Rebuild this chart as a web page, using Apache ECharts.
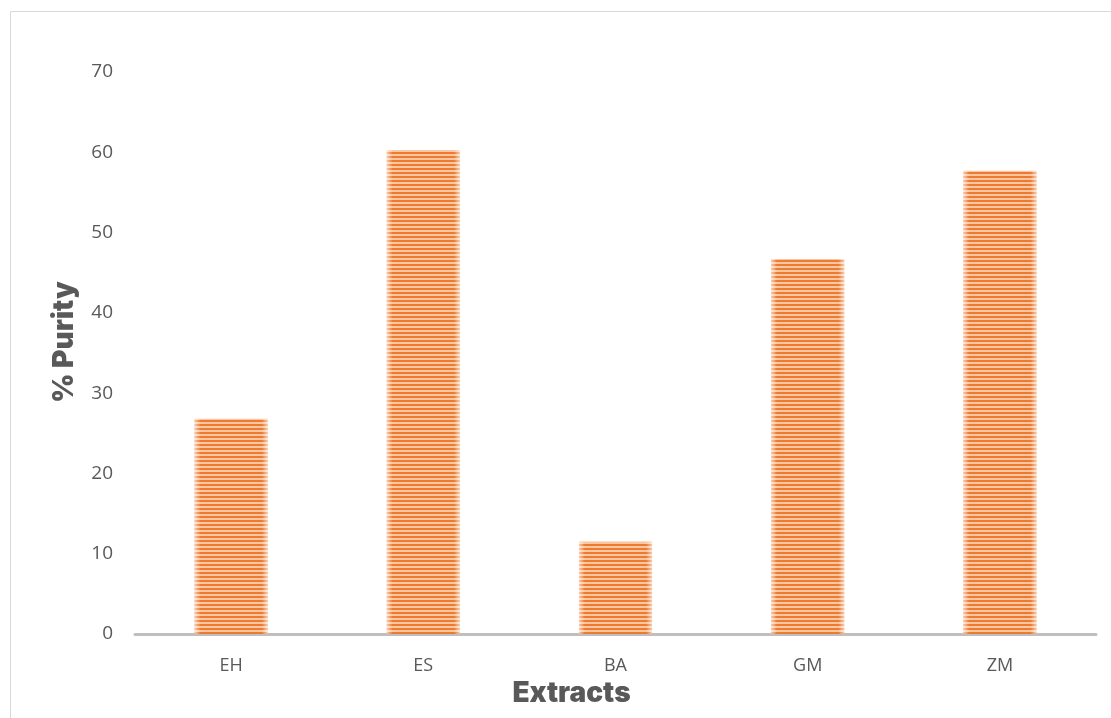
<!DOCTYPE html>
<html>
<head>
<meta charset="utf-8">
<style>
  html, body { margin: 0; padding: 0; background: #ffffff; }
  #chart { width: 1111px; height: 718px; }
</style>
<script src="https://cdn.jsdelivr.net/npm/echarts@6/dist/echarts.min.js"></script>
</head>
<body>
<div id="chart"></div>
<script>
// Extract purity values (%)
var categories = ['EH', 'ES', 'BA', 'GM', 'ZM'];
var purity = [26.8, 60.3, 11.5, 46.7, 57.7];
var yTicks = [0, 10, 20, 30, 40, 50, 60, 70];

// Horizontal stripe fill for the bars
function stripePattern() {
  var c = document.createElement('canvas');
  c.width = 8;
  c.height = 4;
  var ctx = c.getContext('2d');
  ctx.fillStyle = '#fac7a2';
  ctx.fillRect(0, 0, 8, 4);
  ctx.fillStyle = '#ee7a2f';
  ctx.fillRect(0, 0, 8, 2);
  return c;
}

var chart = echarts.init(document.getElementById('chart'), null, { renderer: 'canvas' });

chart.setOption({
  animation: false,
  backgroundColor: '#ffffff',
  graphic: [{
    type: 'rect',
    shape: { x: 10.5, y: 11.5, width: 1200, height: 800 },
    style: { fill: 'none', stroke: '#d9d9d9', lineWidth: 1 },
    silent: true
  }],
  grid: { left: 135, right: 15, top: 72, bottom: 84, containLabel: false },
  xAxis: {
    type: 'category',
    data: categories,
    name: 'Extracts',
    nameLocation: 'middle',
    nameGap: 39,
    nameTextStyle: {
      fontFamily: 'Inter', fontWeight: 900, fontSize: 28, color: '#595959',
      padding: [0, 88, 0, 0]
    },
    axisLine: { lineStyle: { color: '#bfbfbf', width: 3 } },
    axisTick: { show: false },
    axisLabel: {
      margin: 23, fontFamily: 'Open Sans', fontSize: 18, color: '#595959'
    }
  },
  yAxis: {
    type: 'value',
    min: yTicks[0],
    max: yTicks[yTicks.length - 1],
    interval: 10,
    name: '% Purity',
    nameLocation: 'middle',
    nameGap: 56,
    nameRotate: 90,
    nameTextStyle: {
      fontFamily: 'Inter', fontWeight: 900, fontSize: 28, color: '#595959',
      padding: [0, 0, 0, 22]
    },
    axisLine: { show: false },
    axisTick: { show: false },
    splitLine: { show: false },
    axisLabel: {
      margin: 22, fontFamily: 'Open Sans', fontSize: 19, color: '#595959'
    }
  },
  series: [
    {
      type: 'bar',
      data: purity,
      barWidth: '38%',
      itemStyle: {
        color: { image: stripePattern(), repeat: 'repeat' }
      },
      z: 2
    },
    {
      // soft light edges over the striped bars
      type: 'bar',
      data: purity,
      barWidth: '38%',
      barGap: '-100%',
      silent: true,
      itemStyle: {
        color: {
          type: 'linear', x: 0, y: 0, x2: 1, y2: 0,
          colorStops: [
            { offset: 0, color: 'rgba(255,255,255,0.6)' },
            { offset: 0.08, color: 'rgba(255,255,255,0)' },
            { offset: 0.92, color: 'rgba(255,255,255,0)' },
            { offset: 1, color: 'rgba(255,255,255,0.6)' }
          ]
        }
      },
      z: 3
    }
  ]
});
</script>
</body>
</html>
